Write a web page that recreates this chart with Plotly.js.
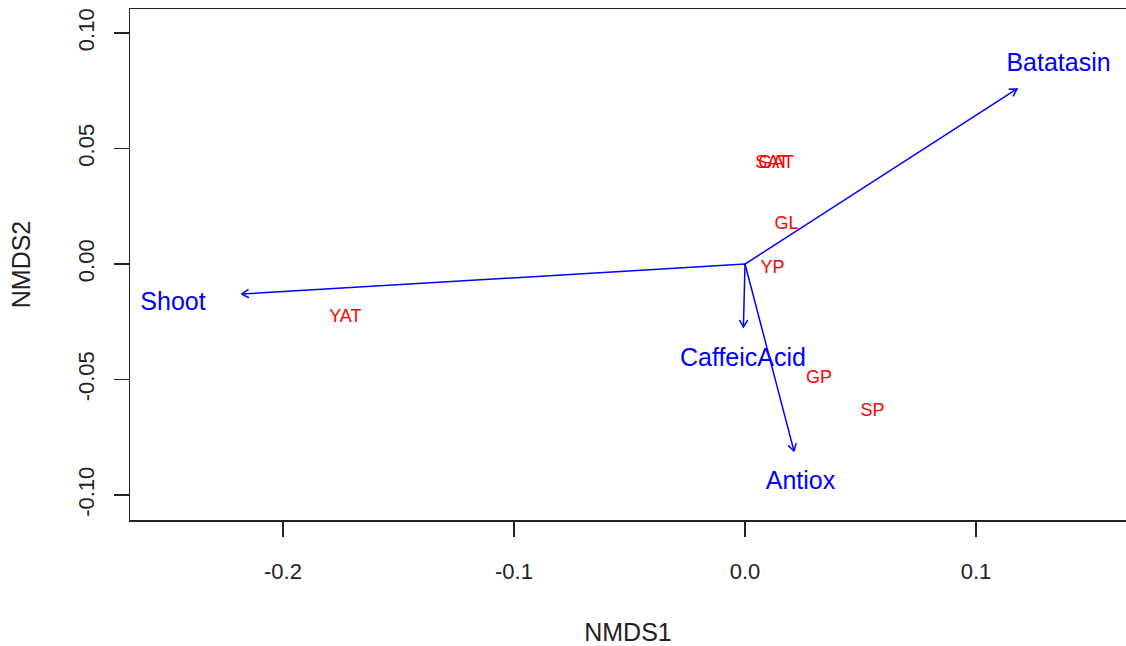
<!DOCTYPE html>
<html>
<head>
<meta charset="utf-8">
<script src="https://cdn.plot.ly/plotly-3.0.1.min.js"></script>
<style>html,body{margin:0;padding:0;background:#fff;}#chart{width:1126px;height:646px;}</style>
</head>
<body>
<div id="chart"></div>
<script>
// Site scores (red labels)
const sites = ["SAT", "GAT", "GL", "YP", "GP", "SP", "YAT"];
const siteX = [0.0117, 0.0135, 0.0180, 0.0119, 0.0320, 0.0552, -0.1730];
const siteY = [0.0434, 0.0434, 0.0172, -0.0021, -0.0495, -0.0638, -0.0233];

// Fitted vectors (blue arrows)
const vectors = ["Batatasin", "Shoot", "CaffeicAcid", "Antiox"];
const vecX = [0.1177, -0.2179, -0.0007, 0.0212];
const vecY = [0.0758, -0.0130, -0.0273, -0.0810];
// Vector label positions
const labX = [0.1357, -0.2476, -0.0009, 0.0240];
const labY = [0.0861, -0.0173, -0.0413, -0.0948];

// Axis ticks
const xTicks = [-0.2, -0.1, 0.0, 0.1];
const xTickText = ["-0.2", "-0.1", "0.0", "0.1"];
const yTicks = [-0.10, -0.05, 0.00, 0.05, 0.10];
const yTickText = ["-0.10", "-0.05", "0.00", "0.05", "0.10"];

const FONT = "Liberation Sans, Arial, Helvetica, sans-serif";

// arrows: shaft + open head (axes have equal aspect, so head computed in data units)
const headLen = 0.0036, headAng = Math.PI / 6;
const ax = [], ay = [];
for (let i = 0; i < vectors.length; i++) {
  const tx = vecX[i], ty = vecY[i];
  const len = Math.hypot(tx, ty);
  const ux = tx / len, uy = ty / len;
  const rot = (a) => [ux * Math.cos(a) - uy * Math.sin(a), ux * Math.sin(a) + uy * Math.cos(a)];
  const r1 = rot(headAng), r2 = rot(-headAng);
  ax.push(0, tx, null, tx - headLen * r1[0], tx, tx - headLen * r2[0], null);
  ay.push(0, ty, null, ty - headLen * r1[1], ty, ty - headLen * r2[1], null);
}

const traces = [
  {
    type: "scatter", mode: "lines", x: ax, y: ay,
    line: {color: "#0000FF", width: 1.5}, hoverinfo: "skip", showlegend: false
  },
  {
    type: "scatter", mode: "text", x: siteX, y: siteY, text: sites,
    textposition: "middle center",
    textfont: {family: FONT, size: 18, color: "#FF0000"},
    hoverinfo: "skip", showlegend: false
  },
  {
    type: "scatter", mode: "text", x: labX, y: labY, text: vectors,
    textposition: "middle center",
    textfont: {family: FONT, size: 25, color: "#0000FF"},
    hoverinfo: "skip", showlegend: false
  }
];

const layout = {
  width: 1126, height: 646,
  margin: {l: 130, r: 0, t: 9, b: 126, pad: 0},
  paper_bgcolor: "#ffffff", plot_bgcolor: "#ffffff",
  font: {family: FONT, color: "#222"},
  showlegend: false,
  hovermode: false,
  xaxis: {
    range: [-0.2662, 0.1649], autorange: false,
    tickmode: "array", tickvals: xTicks, ticktext: xTickText,
    ticks: "outside", ticklen: 15, tickwidth: 1.2, tickcolor: "#222",
    showline: true, mirror: true, linecolor: "#222", linewidth: 1.5,
    showgrid: false, zeroline: false,
    tickfont: {family: FONT, size: 22, color: "#222"},
    ticklabelstandoff: 16,
    title: {text: "NMDS1", font: {family: FONT, size: 25, color: "#222"}, standoff: 44}
  },
  yaxis: {
    range: [-0.1108, 0.1104], autorange: false,
    tickmode: "array", tickvals: yTicks, ticktext: yTickText,
    ticks: "outside", ticklen: 15, tickwidth: 1.2, tickcolor: "#222",
    tickangle: -90,
    showline: true, mirror: false, linecolor: "#222", linewidth: 1.5,
    showgrid: false, zeroline: false,
    tickfont: {family: FONT, size: 22, color: "#222"},
    ticklabelstandoff: 11,
    title: {text: "NMDS2", font: {family: FONT, size: 25, color: "#222"}, standoff: 36}
  }
};

Plotly.newPlot("chart", traces, layout, {displayModeBar: false, staticPlot: true});
</script>
</body>
</html>
